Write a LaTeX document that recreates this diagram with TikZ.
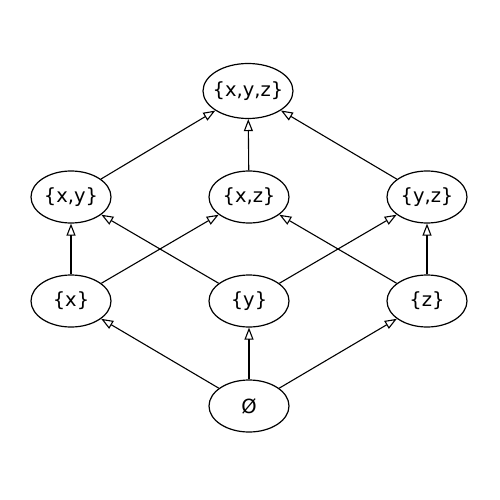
\documentclass[tikz,border=0pt]{standalone}
\usepackage{fontspec}
\setmainfont{DejaVu Sans}
\usetikzlibrary{arrows.meta,shapes.geometric}
\begin{document}
\begin{tikzpicture}[x=1pt,y=-1pt,
  setnode/.style={draw,ellipse,line width=1.2pt,minimum width=80pt,minimum height=52pt,inner sep=-4pt,font=\fontsize{19.5}{22}\selectfont},
  edge/.style={draw,line width=1.1pt,-{Triangle[open,length=12pt,width=9pt]}}]
\useasboundingbox (0,0) rectangle (500,500);
\node[setnode,minimum width=90pt,minimum height=55pt] (xyz) at (248,91) {\{x,y,z\}};
\node[setnode] (xy) at (71,197) {\{x,y\}};
\node[setnode] (xz) at (249,197) {\{x,z\}};
\node[setnode] (yz) at (427,197) {\{y,z\}};
\node[setnode] (x) at (71,301) {\{x\}};
\node[setnode] (y) at (249,301) {\{y\}};
\node[setnode] (z) at (427,301) {\{z\}};
\node[setnode] (e) at (249,406) {Ø};
\path[edge] (e) -- (x);
\path[edge] (e) -- (y);
\path[edge] (e) -- (z);
\path[edge] (x) -- (xy);
\path[edge] (x) -- (xz);
\path[edge] (y) -- (xy);
\path[edge] (y) -- (yz);
\path[edge] (z) -- (xz);
\path[edge] (z) -- (yz);
\path[edge] (xy) -- (xyz);
\path[edge] (xz) -- (xyz);
\path[edge] (yz) -- (xyz);
\end{tikzpicture}
\end{document}
